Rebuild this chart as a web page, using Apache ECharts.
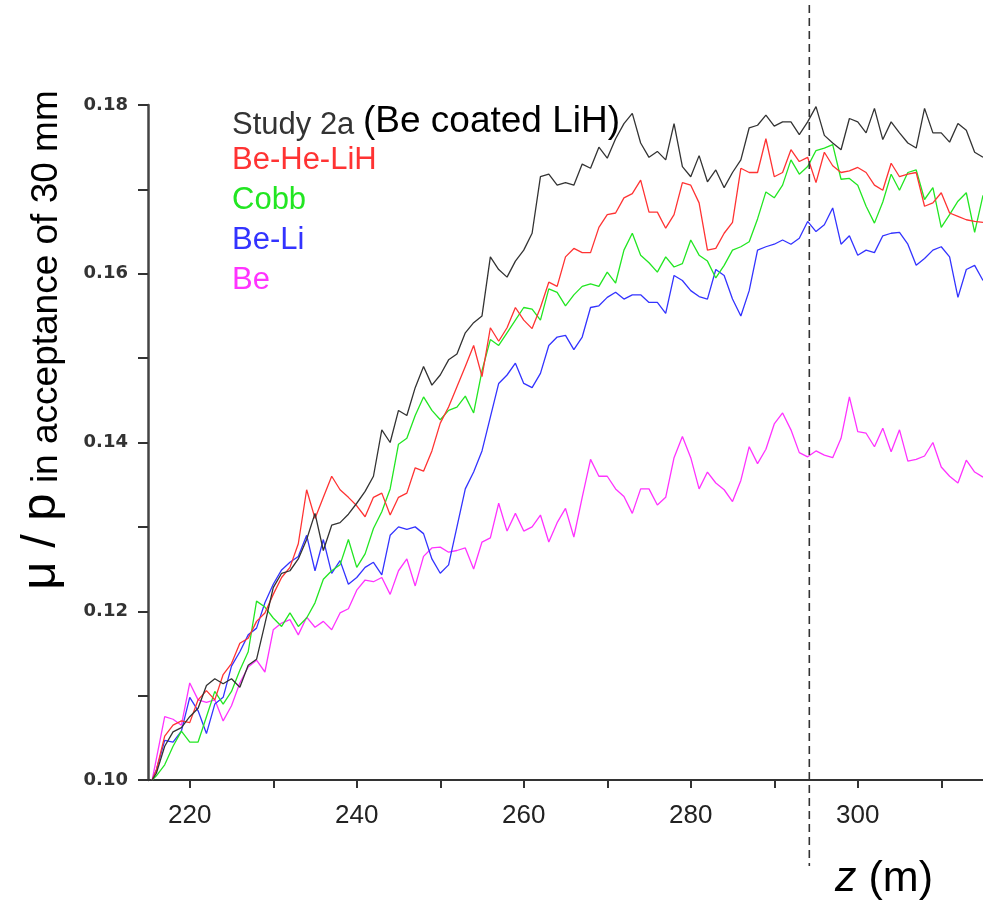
<!DOCTYPE html>
<html>
<head>
<meta charset="utf-8">
<script src="https://cdn.jsdelivr.net/npm/echarts@6/dist/echarts.min.js"></script>
<style>html,body{margin:0;padding:0;background:#fff;}#c{width:983px;height:905px;}</style>
</head>
<body>
<div id="c"></div>
<script>
const zGrid = [215.5,
 216,217,218,219,220,221,222,223,224,225,
 226,227,228,229,230,231,232,233,234,235,
 236,237,238,239,240,241,242,243,244,245,
 246,247,248,249,250,251,252,253,254,255,
 256,257,258,259,260,261,262,263,264,265,
 266,267,268,269,270,271,272,273,274,275,
 276,277,278,279,280,281,282,283,284,285,
 286,287,288,289,290,291,292,293,294,295,
 296,297,298,299,300,301,302,303,304,305,
 306,307,308,309,310,311,312,313,314,315];

const study2a = [0.1000,
 0.1008,0.1040,0.1057,0.1062,0.1075,0.1085,0.1112,0.1120,0.1114,0.1120,
 0.1110,0.1136,0.1143,0.1185,0.1228,0.1245,0.1248,0.1262,0.1285,0.1316,
 0.1272,0.1302,0.1305,0.1315,0.1328,0.1342,0.1360,0.1415,0.1400,0.1438,
 0.1432,0.1465,0.1490,0.1468,0.1480,0.1498,0.1505,0.1530,0.1542,0.1550,
 0.1620,0.1605,0.1596,0.1615,0.1628,0.1648,0.1715,0.1718,0.1705,0.1708,
 0.1705,0.1730,0.1725,0.1750,0.1737,0.1760,0.1778,0.1790,0.1755,0.1738,
 0.1745,0.1735,0.1778,0.1727,0.1715,0.1740,0.1709,0.1723,0.1702,0.1720,
 0.1735,0.1773,0.1776,0.1788,0.1775,0.1780,0.1780,0.1765,0.1780,0.1798,
 0.1764,0.1755,0.1747,0.1784,0.1780,0.1767,0.1796,0.1759,0.1780,0.1767,
 0.1755,0.1749,0.1796,0.1767,0.1767,0.1756,0.1778,0.1770,0.1744,0.1738];

const beHeLiH = [0.1000,
 0.1012,0.1052,0.1065,0.1070,0.1068,0.1095,0.1106,0.1095,0.1125,0.1138,
 0.1162,0.1168,0.1188,0.1198,0.1220,0.1240,0.1252,0.1280,0.1344,0.1310,
 0.1335,0.1360,0.1344,0.1335,0.1325,0.1312,0.1335,0.1340,0.1314,0.1335,
 0.1340,0.1370,0.1366,0.1390,0.1423,0.1442,0.1466,0.1490,0.1515,0.1478,
 0.1536,0.1520,0.1536,0.1560,0.1545,0.1535,0.1560,0.1590,0.1585,0.1620,
 0.1630,0.1625,0.1625,0.1655,0.1670,0.1672,0.1690,0.1695,0.1711,0.1673,
 0.1673,0.1654,0.1670,0.1708,0.1705,0.1684,0.1628,0.1630,0.1648,0.1661,
 0.1725,0.1720,0.1720,0.1760,0.1715,0.1720,0.1747,0.1733,0.1738,0.1708,
 0.1744,0.1728,0.1720,0.1722,0.1726,0.1720,0.1705,0.1699,0.1731,0.1715,
 0.1718,0.1720,0.1680,0.1684,0.1696,0.1672,0.1668,0.1664,0.1662,0.1661];

const cobb = [0.1000,
 0.1005,0.1018,0.1040,0.1058,0.1045,0.1045,0.1075,0.1105,0.1090,0.1105,
 0.1130,0.1152,0.1212,0.1205,0.1192,0.1182,0.1198,0.1182,0.1192,0.1210,
 0.1238,0.1248,0.1255,0.1285,0.1252,0.1268,0.1298,0.1318,0.1345,0.1398,
 0.1405,0.1432,0.1454,0.1438,0.1427,0.1438,0.1442,0.1455,0.1435,0.1485,
 0.1522,0.1515,0.1530,0.1545,0.1560,0.1558,0.1545,0.1582,0.1578,0.1562,
 0.1575,0.1585,0.1588,0.1585,0.1602,0.1589,0.1628,0.1648,0.1622,0.1613,
 0.1602,0.1620,0.1608,0.1612,0.1640,0.1622,0.1615,0.1595,0.1610,0.1628,
 0.1632,0.1638,0.1665,0.1697,0.1690,0.1705,0.1735,0.1718,0.1727,0.1746,
 0.1749,0.1753,0.1712,0.1713,0.1705,0.1680,0.1660,0.1685,0.1718,0.1699,
 0.1720,0.1723,0.1688,0.1702,0.1655,0.1670,0.1686,0.1696,0.1649,0.1693];

const beLi = [0.1000,
 0.1012,0.1047,0.1045,0.1058,0.1098,0.1082,0.1055,0.1090,0.1098,0.1135,
 0.1152,0.1172,0.1180,0.1210,0.1232,0.1249,0.1258,0.1265,0.1290,0.1248,
 0.1285,0.1245,0.1260,0.1232,0.1240,0.1252,0.1258,0.1243,0.1290,0.1300,
 0.1297,0.1300,0.1292,0.1262,0.1245,0.1255,0.1300,0.1345,0.1365,0.1390,
 0.1430,0.1470,0.1480,0.1494,0.1470,0.1465,0.1482,0.1515,0.1525,0.1527,
 0.1510,0.1525,0.1560,0.1562,0.1572,0.1578,0.1570,0.1575,0.1575,0.1566,
 0.1566,0.1553,0.1598,0.1592,0.1580,0.1573,0.1570,0.1605,0.1598,0.1570,
 0.1550,0.1580,0.1628,0.1632,0.1635,0.1640,0.1635,0.1642,0.1662,0.1650,
 0.1658,0.1678,0.1635,0.1645,0.1622,0.1628,0.1625,0.1645,0.1648,0.1649,
 0.1635,0.1610,0.1618,0.1628,0.1632,0.1620,0.1572,0.1605,0.1610,0.1592];

const be = [0.1000,
 0.1025,0.1075,0.1072,0.1065,0.1115,0.1095,0.1092,0.1095,0.1070,0.1088,
 0.1115,0.1134,0.1142,0.1128,0.1178,0.1186,0.1190,0.1172,0.1193,0.1181,
 0.1188,0.1178,0.1198,0.1203,0.1225,0.1237,0.1235,0.1240,0.1220,0.1248,
 0.1262,0.1230,0.1265,0.1275,0.1276,0.1270,0.1272,0.1275,0.1250,0.1282,
 0.1287,0.1328,0.1295,0.1316,0.1295,0.1300,0.1314,0.1282,0.1305,0.1322,
 0.1288,0.1335,0.1380,0.1360,0.1360,0.1345,0.1336,0.1316,0.1345,0.1345,
 0.1326,0.1335,0.1382,0.1407,0.1382,0.1345,0.1365,0.1352,0.1344,0.1330,
 0.1355,0.1395,0.1375,0.1392,0.1422,0.1435,0.1415,0.1388,0.1383,0.1390,
 0.1385,0.1382,0.1405,0.1454,0.1413,0.1411,0.1395,0.1417,0.1389,0.1415,
 0.1378,0.1380,0.1384,0.1400,0.1371,0.1360,0.1352,0.1379,0.1365,0.1359];

const seriesNames = ['Be', 'Be-Li', 'Cobb', 'Be-He-LiH', 'Study 2a (Be coated LiH)'];
const seriesValues = [be, beLi, cobb, beHeLiH, study2a];
const seriesColors = ['#ff33ff', '#3333ff', '#22e622', '#ff3333', '#333333'];

const xTickValues = [220, 230, 240, 250, 260, 270, 280, 290, 300, 310];
const xLabelValues = [220, 240, 260, 280, 300];
const yTickValues = [0.10, 0.11, 0.12, 0.13, 0.14, 0.15, 0.16, 0.17, 0.18];
const yLabelValues = [0.10, 0.12, 0.14, 0.16, 0.18];
const markerZ = 294.2;

const chart = echarts.init(document.getElementById('c'), null, {renderer: 'canvas'});

const series = seriesValues.map((vals, i) => ({
  name: seriesNames[i],
  type: 'line',
  showSymbol: false,
  symbol: 'none',
  animation: false,
  data: zGrid.map((z, k) => [z, vals[k]]),
  lineStyle: {color: seriesColors[i], width: 1.3},
  itemStyle: {color: seriesColors[i]},
  z: 2 + i
}));

chart.setOption({
  animation: false,
  backgroundColor: '#ffffff',
  grid: {left: 148, right: 0, top: 105, bottom: 125, containLabel: false},
  xAxis: {
    type: 'value', min: 215, max: 315,
    axisLine: {show: true, lineStyle: {color: '#333', width: 2}},
    axisTick: {show: true, inside: false, length: 8, customValues: xTickValues, lineStyle: {color: '#333', width: 2}},
    axisLabel: {show: true, customValues: xLabelValues, margin: 23, fontFamily: 'Liberation Sans', fontSize: 26, color: '#222'},
    splitLine: {show: false}
  },
  yAxis: {
    type: 'value', min: 0.10, max: 0.18,
    axisLine: {show: true, lineStyle: {color: '#444', width: 2.5}},
    axisTick: {show: true, inside: false, length: 10, customValues: yTickValues, lineStyle: {color: '#333', width: 2}},
    axisLabel: {show: true, customValues: yLabelValues, margin: 20, fontFamily: 'DejaVu Sans', fontWeight: 'bold', fontSize: 18, color: '#333',
      formatter: v => v.toFixed(2)},
    splitLine: {show: false}
  },
  series: series
});

const px = chart.convertToPixel({xAxisIndex: 0}, markerZ);

const legendFont = 'Liberation Sans';
chart.setOption({
  graphic: [
    {type: 'line', z: 100, shape: {x1: px, y1: 5, x2: px, y2: 866},
      style: {stroke: '#333', lineWidth: 1.6, lineDash: [8, 5]}},
    {type: 'text', z: 100, x: 41, y: 340, rotation: Math.PI / 2,
      style: {text: '{a|μ / p}{b| in acceptance of 30 mm}', align: 'center', verticalAlign: 'middle',
        rich: {a: {fontFamily: legendFont, fontSize: 49, fill: '#000', verticalAlign: 'bottom'},
               b: {fontFamily: legendFont, fontSize: 37, fill: '#000', verticalAlign: 'bottom'}}}},
    {type: 'text', z: 100, x: 884, y: 879,
      style: {text: '{i|z}{n| (m)}', align: 'center', verticalAlign: 'middle',
        rich: {i: {fontFamily: legendFont, fontSize: 43, fontStyle: 'italic', fill: '#000', verticalAlign: 'bottom'},
               n: {fontFamily: legendFont, fontSize: 43, fill: '#000', verticalAlign: 'bottom'}}}},
    {type: 'text', z: 100, x: 232, y: 122,
      style: {text: '{g|Study 2a }{k|(Be coated LiH)}', align: 'left', verticalAlign: 'middle',
        rich: {g: {fontFamily: legendFont, fontSize: 31, fill: '#333', verticalAlign: 'bottom'},
               k: {fontFamily: legendFont, fontSize: 37, fill: '#000', verticalAlign: 'bottom'}}}},
    {type: 'text', z: 100, x: 232, y: 160,
      style: {text: seriesNames[3], font: '31px "Liberation Sans"', fill: seriesColors[3], align: 'left', verticalAlign: 'middle'}},
    {type: 'text', z: 100, x: 232, y: 200,
      style: {text: seriesNames[2], font: '31px "Liberation Sans"', fill: seriesColors[2], align: 'left', verticalAlign: 'middle'}},
    {type: 'text', z: 100, x: 232, y: 240,
      style: {text: seriesNames[1], font: '31px "Liberation Sans"', fill: seriesColors[1], align: 'left', verticalAlign: 'middle'}},
    {type: 'text', z: 100, x: 232, y: 280,
      style: {text: seriesNames[0], font: '31px "Liberation Sans"', fill: seriesColors[0], align: 'left', verticalAlign: 'middle'}}
  ]
});
</script>
</body>
</html>
